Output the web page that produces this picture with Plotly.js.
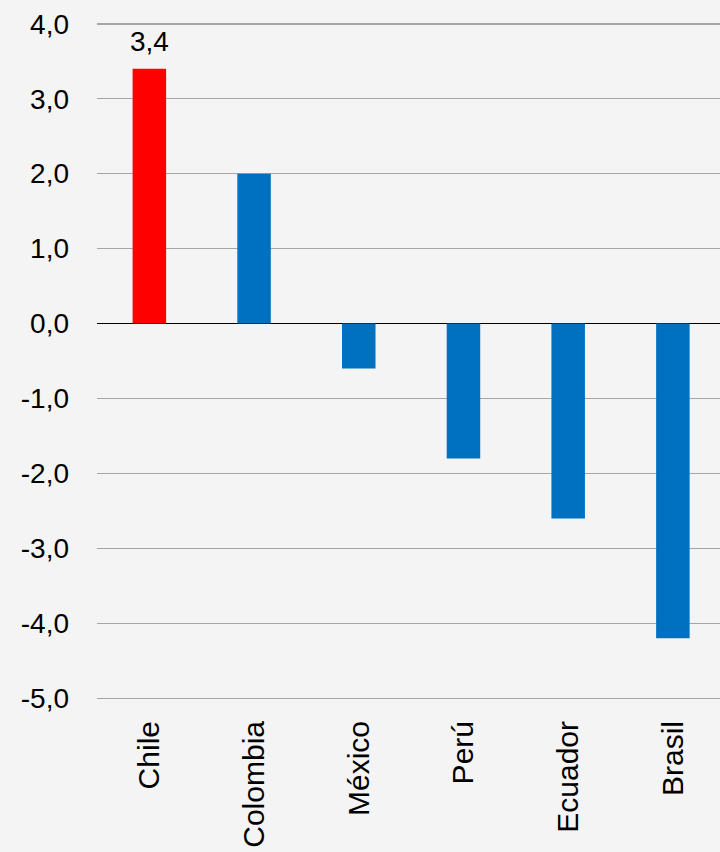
<!DOCTYPE html>
<html>
<head>
<meta charset="utf-8">
<script src="https://cdn.plot.ly/plotly-3.0.1.min.js"></script>
<style>
html,body{margin:0;padding:0;background:#f4f4f4;}
#chart{width:720px;height:852px;}
</style>
</head>
<body>
<div id="chart"></div>
<script>
const countries = ['Chile', 'Colombia', 'México', 'Perú', 'Ecuador', 'Brasil'];
const values = [3.4, 2.0, -0.6, -1.8, -2.6, -4.2];
const barColors = ['#FF0000', '#0070C0', '#0070C0', '#0070C0', '#0070C0', '#0070C0'];
const labelledIndex = 0;
const yTicks = [-5, -4, -3, -2, -1, 0, 1, 2, 3, 4];
const yTickText = yTicks.map(v => v.toFixed(1).replace('.', ','));

const trace = {
  type: 'bar',
  x: countries,
  y: values,
  marker: {color: barColors, line: {width: 0}},
  width: 0.32,
  hoverinfo: 'none'
};

const layout = {
  width: 720,
  height: 852,
  margin: {l: 97, r: 0, t: 20, b: 150},
  paper_bgcolor: '#f4f4f4',
  plot_bgcolor: 'rgba(0,0,0,0)',
  showlegend: false,
  font: {family: 'Liberation Sans, Arial, sans-serif', size: 28, color: '#000'},
  xaxis: {
    range: [-0.5, 5.45],
    tickangle: -90,
    showgrid: false,
    zeroline: false,
    showline: false,
    ticks: '',
    ticklabelstandoff: 12,
    tickfont: {size: 30, color: '#000'}
  },
  yaxis: {
    range: [-5.05, 4.05],
    tickvals: yTicks,
    ticktext: yTickText,
    showgrid: true,
    gridcolor: '#a6a6a6',
    gridwidth: 1.5,
    zeroline: true,
    zerolinecolor: '#000',
    zerolinewidth: 1.5,
    showline: false,
    ticks: '',
    ticklabelstandoff: 27,
    tickfont: {size: 28, color: '#000'}
  },
  annotations: [{
    x: countries[labelledIndex],
    y: values[labelledIndex],
    xref: 'x', yref: 'y',
    text: values[labelledIndex].toFixed(1).replace('.', ','),
    showarrow: false,
    yanchor: 'bottom',
    yshift: 10,
    font: {family: 'Liberation Sans, Arial, sans-serif', size: 28, color: '#000'}
  }]
};

Plotly.newPlot('chart', [trace], layout, {displayModeBar: false, staticPlot: true});
</script>
</body>
</html>
